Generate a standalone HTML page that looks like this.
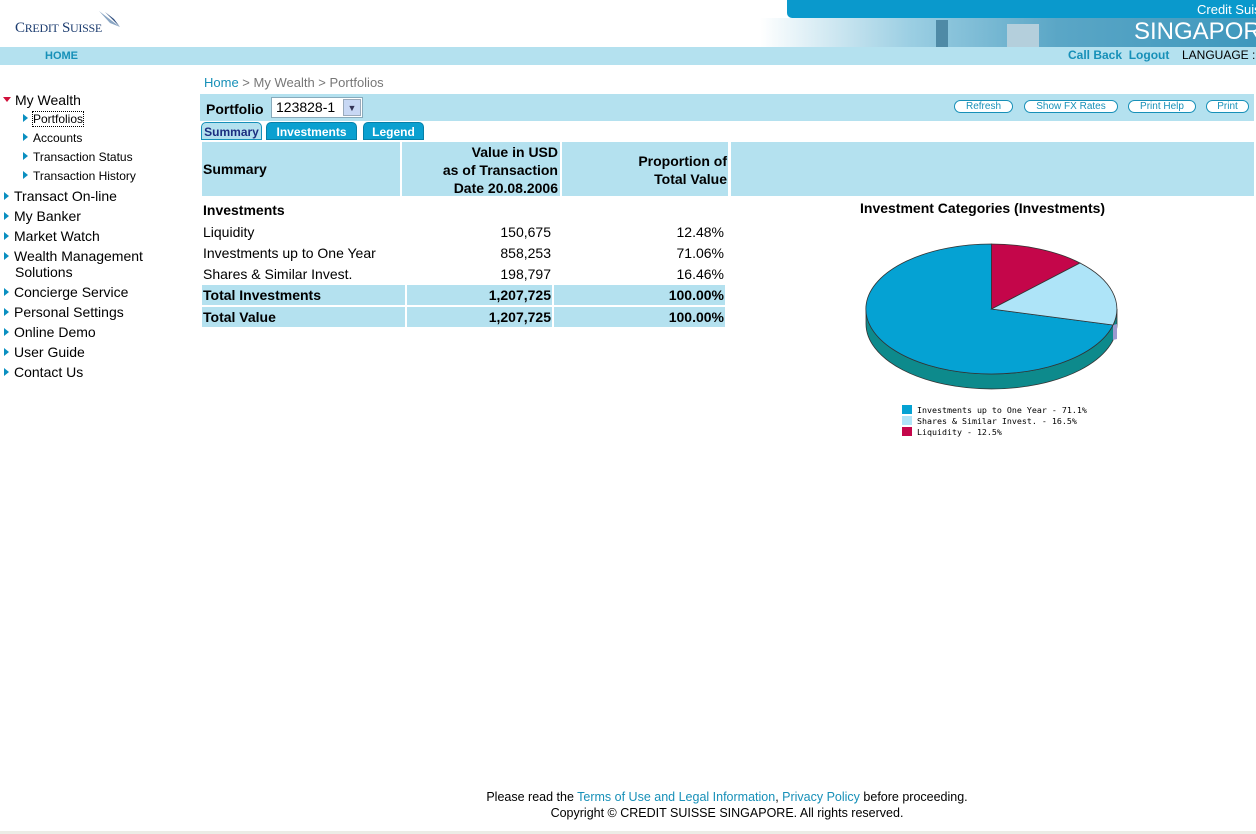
<!DOCTYPE html>
<html><head><meta charset="utf-8"><style>
*{margin:0;padding:0;box-sizing:border-box}
body{width:1256px;height:834px;position:relative;background:#fff;font-family:"Liberation Sans",sans-serif;font-size:14px;color:#000;overflow:hidden}
.a{position:absolute;white-space:nowrap}
.lb{background:#b4e1ef}
.nav{font-size:14px}
.tri{display:inline-block;width:0;height:0;border-top:4px solid transparent;border-bottom:4px solid transparent;border-left:5px solid #0a8fc0;margin-right:5px;vertical-align:1px}
.sub{font-size:12px}
.btn{position:absolute;top:100px;height:13px;border:1px solid #1790b8;border-radius:7px;background:#fff;font-size:10px;color:#1790b8;text-align:center;line-height:11px}
.tab{position:absolute;top:122px;height:18px;background:#0aa0d0;color:#fff;font-weight:bold;font-size:12px;text-align:center;line-height:18px;border-radius:5px 5px 0 0;border:1px solid #0680a8}
.c{position:absolute;background:#b4e1ef}
.r{text-align:right}
</style></head><body>
<div class="a" style="left:15px;top:20px;font-family:'Liberation Serif',serif;font-size:15px;color:#1d3d70;letter-spacing:-0.3px">C<span style="font-size:12px">REDIT</span> S<span style="font-size:12px">UISSE</span></div>
<svg class="a" style="left:96px;top:9px" width="28" height="20"><path d="M3,2 L24,18 L14,14 Z" fill="#8aa6c4"/><path d="M9,3 L24,18 L18,10Z" fill="#2f4f80"/></svg>
<div class="a" style="left:787px;top:0;width:469px;height:18px;background:#0a99cc;border-radius:0 0 0 5px"></div>
<div class="a" style="left:1197px;top:2px;color:#fff;font-size:13px">Credit Suis</div>
<div class="a" style="left:760px;top:18px;width:496px;height:29px;background:linear-gradient(90deg,#fff 0%,#9ccfe3 30%,#5aa6c6 60%,#3f98bd 100%)"></div>
<div class="a" style="left:936px;top:20px;width:12px;height:27px;background:#4f8aa6"></div>
<div class="a" style="left:1007px;top:24px;width:32px;height:23px;background:#b4cfdc"></div>
<div class="a" style="left:1134px;top:18px;color:#fff;font-size:24px">SINGAPOR</div>
<div class="a lb" style="left:0;top:47px;width:1256px;height:18px"></div>
<div class="a" style="left:45px;top:50px;font-size:11px;font-weight:bold;color:#1790b8">HOME</div>
<div class="a" style="left:1068px;top:48px;font-size:12px;font-weight:bold;color:#1790b8">Call Back&nbsp; Logout</div>
<div class="a" style="left:1182px;top:48px;font-size:12px">LANGUAGE :</div>
<div class="a nav" style="left:3px;top:92px"><span style="display:inline-block;border-left:4px solid transparent;border-right:4px solid transparent;border-top:5px solid #d0103a;margin-right:4px;vertical-align:3px"></span>My Wealth</div>
<div class="a sub" style="left:23px;top:112px"><span class="tri"></span><span style="outline:1px dotted #000">Portfolios</span></div>
<div class="a sub" style="left:23px;top:131px"><span class="tri"></span>Accounts</div>
<div class="a sub" style="left:23px;top:150px"><span class="tri"></span>Transaction Status</div>
<div class="a sub" style="left:23px;top:169px"><span class="tri"></span>Transaction History</div>
<div class="a nav" style="left:4px;top:188px"><span class="tri"></span>Transact On-line</div>
<div class="a nav" style="left:4px;top:208px"><span class="tri"></span>My Banker</div>
<div class="a nav" style="left:4px;top:228px"><span class="tri"></span>Market Watch</div>
<div class="a nav" style="left:4px;top:248px"><span class="tri"></span>Wealth Management</div>
<div class="a nav" style="left:15px;top:264px">Solutions</div>
<div class="a nav" style="left:4px;top:284px"><span class="tri"></span>Concierge Service</div>
<div class="a nav" style="left:4px;top:304px"><span class="tri"></span>Personal Settings</div>
<div class="a nav" style="left:4px;top:324px"><span class="tri"></span>Online Demo</div>
<div class="a nav" style="left:4px;top:344px"><span class="tri"></span>User Guide</div>
<div class="a nav" style="left:4px;top:364px"><span class="tri"></span>Contact Us</div>
<div class="a" style="left:204px;top:75px;font-size:13px;color:#777"><span style="color:#1790b8">Home</span> &gt; My Wealth &gt; Portfolios</div>
<div class="a lb" style="left:200px;top:94px;width:1054px;height:27px"></div>
<div class="a" style="left:206px;top:101px;font-weight:bold;font-size:14px">Portfolio</div>
<div class="a" style="left:271px;top:97px;width:92px;height:21px;background:#fff;border:1px solid #8ab;font-size:14px;padding:1px 4px">123828-1</div>
<div class="a" style="left:343px;top:99px;width:18px;height:17px;background:#c8d8f4;border:1px solid #9ab;color:#335;font-size:9px;text-align:center;line-height:16px">&#9660;</div>
<div class="btn" style="left:954px;width:59px">Refresh</div>
<div class="btn" style="left:1024px;width:94px">Show FX Rates</div>
<div class="btn" style="left:1128px;width:68px">Print Help</div>
<div class="btn" style="left:1206px;width:43px">Print</div>
<div class="tab" style="left:201px;width:61px;background:#b4e1ef;color:#1d2f80;border-color:#1790b8">Summary</div>
<div class="tab" style="left:266px;width:91px">Investments</div>
<div class="tab" style="left:363px;width:61px">Legend</div>
<div class="c" style="left:202px;top:142px;width:198px;height:54px"></div>
<div class="c" style="left:402px;top:142px;width:158px;height:54px"></div>
<div class="c" style="left:562px;top:142px;width:166px;height:54px"></div>
<div class="c" style="left:731px;top:142px;width:523px;height:54px"></div>
<div class="a" style="left:203px;top:161px;font-weight:bold">Summary</div>
<div class="a r" style="left:402px;top:143px;width:156px;font-weight:bold;line-height:18px">Value in USD<br>as of Transaction<br>Date 20.08.2006</div>
<div class="a r" style="left:562px;top:152px;width:165px;font-weight:bold;line-height:18px">Proportion of<br>Total Value</div>
<div class="a" style="left:203px;top:202px;font-weight:bold">Investments</div>
<div class="a" style="left:203px;top:224px">Liquidity</div>
<div class="a r" style="left:402px;top:224px;width:149px">150,675</div>
<div class="a r" style="left:562px;top:224px;width:162px">12.48%</div>
<div class="a" style="left:203px;top:245px">Investments up to One Year</div>
<div class="a r" style="left:402px;top:245px;width:149px">858,253</div>
<div class="a r" style="left:562px;top:245px;width:162px">71.06%</div>
<div class="a" style="left:203px;top:266px">Shares &amp; Similar Invest.</div>
<div class="a r" style="left:402px;top:266px;width:149px">198,797</div>
<div class="a r" style="left:562px;top:266px;width:162px">16.46%</div>
<div class="c" style="left:202px;top:285px;width:203px;height:20px"></div>
<div class="c" style="left:407px;top:285px;width:145px;height:20px"></div>
<div class="c" style="left:554px;top:285px;width:171px;height:20px"></div>
<div class="c" style="left:202px;top:307px;width:203px;height:20px"></div>
<div class="c" style="left:407px;top:307px;width:145px;height:20px"></div>
<div class="c" style="left:554px;top:307px;width:171px;height:20px"></div>
<div class="a" style="left:203px;top:287px;font-weight:bold">Total Investments</div>
<div class="a r" style="left:402px;top:287px;width:149px;font-weight:bold">1,207,725</div>
<div class="a r" style="left:562px;top:287px;width:162px;font-weight:bold">100.00%</div>
<div class="a" style="left:203px;top:309px;font-weight:bold">Total Value</div>
<div class="a r" style="left:402px;top:309px;width:149px;font-weight:bold">1,207,725</div>
<div class="a r" style="left:562px;top:309px;width:162px;font-weight:bold">100.00%</div>
<div class="a" style="left:860px;top:200px;font-weight:bold;font-size:14px">Investment Categories (Investments)</div>
<svg class="a" style="left:0;top:0" width="1256" height="834">
<path d="M866,309 A125.5,65 0 0 0 1117,309 L1117,324 A125.5,65 0 0 1 866,324 Z" fill="#0d8a8c" stroke="#333" stroke-width="0.8"/>
<path d="M1113,325 L1117,324 L1117,339 L1113,340Z" fill="#9a9ad0"/>
<path d="M991.5,309 L1113,325 A125.5,65 0 1 1 991.5,244 Z" fill="#05a2d3" stroke="#333" stroke-width="0.8"/>
<path d="M991.5,309 L991.5,244 A125.5,65 0 0 1 1080,263 Z" fill="#c4064a" stroke="#333" stroke-width="0.8"/>
<path d="M991.5,309 L1080,263 A125.5,65 0 0 1 1113,325 Z" fill="#aee4f8" stroke="#333" stroke-width="0.8"/>
<rect x="902" y="405" width="10" height="9" fill="#05a2d3"/>
<rect x="902" y="416" width="10" height="9" fill="#aee4f8"/>
<rect x="902" y="427" width="10" height="9" fill="#c4064a"/>
<g font-family="DejaVu Sans Mono,monospace" font-size="8.3" fill="#000">
<text x="917" y="413">Investments up to One Year - 71.1%</text>
<text x="917" y="424">Shares &amp; Similar Invest. - 16.5%</text>
<text x="917" y="435">Liquidity - 12.5%</text>
</g>
</svg>
<div class="a" style="left:0;top:790px;width:1256px;text-align:center;font-size:12.5px;padding-left:198px">Please read the <span style="color:#1790b8">Terms of Use and Legal Information</span>, <span style="color:#1790b8">Privacy Policy</span> before proceeding.</div>
<div class="a" style="left:0;top:806px;width:1256px;text-align:center;font-size:12.5px;padding-left:198px">Copyright © CREDIT SUISSE SINGAPORE. All rights reserved.</div>
<div class="a" style="left:0;top:831px;width:1256px;height:3px;background:#ecece6"></div>
</body></html>
